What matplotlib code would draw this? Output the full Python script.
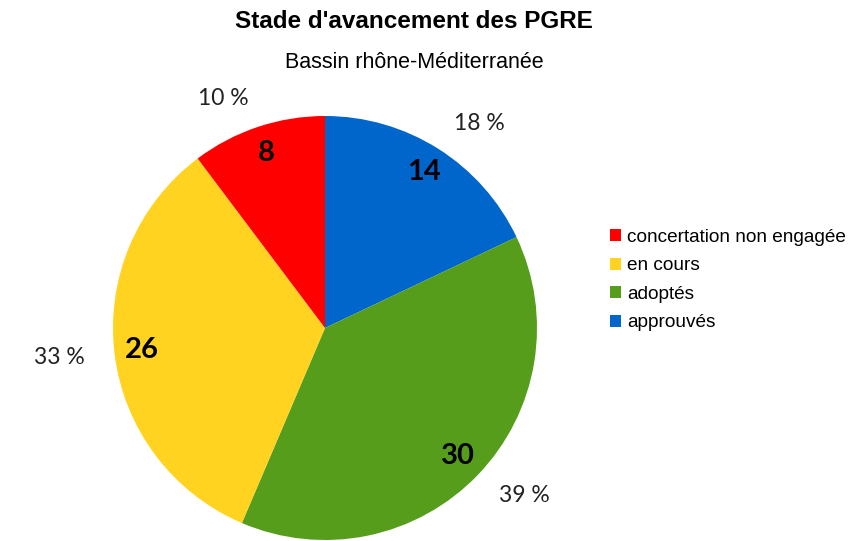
import numpy as np
import matplotlib.pyplot as plt

# data, in drawing order (clockwise from 12 o'clock)
categories = ['approuvés', 'adoptés', 'en cours', 'concertation non engagée']
counts = [14, 30, 26, 8]
colors = ['#0066cc', '#579d1c', '#ffd320', '#ff0000']


def rounded_percents(values):
    # largest remainder rounding so the labels sum to 100
    raw = np.array(values, dtype=float) / sum(values) * 100
    out = np.floor(raw).astype(int)
    rest = 100 - out.sum()
    for i in np.argsort(-(raw - out))[:rest]:
        out[i] += 1
    return out


W, H = 853, 541
fig = plt.figure(figsize=(W / 100, H / 100), dpi=100)

# pie centre and radius in pixels
cx, cy, r = 325, 328, 212
ax = fig.add_axes([(cx - r) / W, (H - cy - r) / H, 2 * r / W, 2 * r / H])

wedges, _ = ax.pie(counts, colors=colors, startangle=90, counterclock=False,
                   radius=1, center=(0, 0), frame=True,
                   wedgeprops=dict(linewidth=0))
ax.set_xlim(-1, 1)
ax.set_ylim(-1, 1)
ax.axis('off')

pcts = rounded_percents(counts)
for w, n, p in zip(wedges, counts, pcts):
    mid = np.deg2rad((w.theta1 + w.theta2) / 2)
    c, s = np.cos(mid), np.sin(mid)
    # value inside
    ax.text(0.87 * c, 0.87 * s, str(n), ha='center', va='center',
            fontsize=21, fontweight='bold', family='Lato', color='black')
    # percentage outside
    ha = 'left' if c > 0 else 'right'
    ax.text(1.14 * c, 1.14 * s, f"{p} %", ha=ha, va='center', fontsize=16.5,
            family='Lato', color='#222222')

fig.text(413.5 / W, 1 - 21 / H, "Stade d'avancement des PGRE", ha='center', va='center',
         fontsize=17.5, fontweight='bold', family='Liberation Sans')
fig.text(414 / W, 1 - 62 / H, "Bassin rhône-Méditerranée", ha='center', va='center',
         fontsize=15.5, family='Liberation Sans')

leg = fig.legend(wedges[::-1], categories[::-1], loc='upper left',
                 bbox_to_anchor=(610 / W, 1 - 229 / H), frameon=False,
                 prop={'family': 'Liberation Sans', 'size': 13.7},
                 handlelength=0.6, handleheight=0.6, handletextpad=0.3,
                 labelspacing=0.6, borderaxespad=0, borderpad=0)

fig.savefig('out.png', dpi=100)
